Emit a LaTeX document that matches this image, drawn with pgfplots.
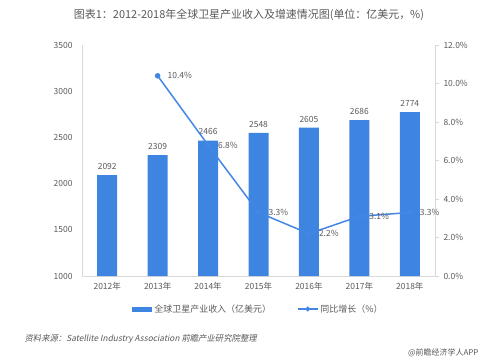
\documentclass[border=0pt]{standalone}
\usepackage{pgfplots}
\pgfplotsset{compat=1.18}
\usepackage{fontspec}
\setmainfont{Noto Sans CJK SC}
\newfontfamily\srcfont[FakeSlant=0.2]{Noto Sans CJK SC}
\definecolor{barblue}{RGB}{61,133,224}
\definecolor{lineblue}{RGB}{68,134,228}
\definecolor{txt}{RGB}{89,89,89}
\definecolor{axisgray}{RGB}{217,217,217}
\begin{document}
\begin{tikzpicture}[x=1bp,y=1bp]
\useasboundingbox (0,0) rectangle (500,362);
\pgfplotsset{
  every tick label/.append style={font=\fontsize{8.5}{10}\selectfont, text=txt},
  /pgf/number format/assume math mode=true
}
\begin{axis}[
  at={(82bp,86bp)}, anchor=south west, scale only axis,
  width=353bp, height=231bp,
  xmin=-0.5, xmax=6.5, ymin=1000, ymax=3500,
  ytick={1000,1500,2000,2500,3000,3500},
  yticklabel style={/pgf/number format/1000 sep={}},
  xtick={0,1,2,3,4,5,6},
  xticklabels={2012年,2013年,2014年,2015年,2016年,2017年,2018年},
  axis x line*=bottom, axis y line*=left,
  axis line style={draw=axisgray, line width=0.8pt},
  major tick length=0pt,
  yticklabel style={xshift=-6bp},
  xticklabel style={yshift=-3bp},
  clip=false,
]
\addplot[ybar, bar width=20bp, fill=barblue, draw=none,
  nodes near coords, every node near coord/.append style={font=\fontsize{8.5}{10}\selectfont, text=txt, yshift=2bp},
  nodes near coords style={/pgf/number format/1000 sep={}}]
  coordinates {(0,2092) (1,2309) (2,2466) (3,2548) (4,2605) (5,2686) (6,2774)};
\end{axis}
\begin{axis}[
  at={(82bp,86bp)}, anchor=south west, scale only axis,
  width=353bp, height=231bp,
  xmin=-0.5, xmax=6.5, ymin=0, ymax=12,
  ytick={0,2,4,6,8,10,12},
  yticklabel={\pgfmathprintnumber[fixed,fixed zerofill,precision=1]{\tick}\%},
  axis y line*=right, axis x line=none,
  axis line style={draw=axisgray, line width=0.8pt},
  ytick style={draw=axisgray, line width=0.8pt},
  major tick length=4bp, tick align=outside,
  yticklabel style={xshift=1bp},
  clip=false,
  legend style={at={(0.5,-0.143)}, anchor=center, draw=none, fill=none,
    legend columns=2, font=\fontsize{9}{10}\selectfont, text=txt,
    /tikz/every even column/.append style={column sep=24bp}},
]
\addlegendimage{area legend, fill=barblue, draw=none,
  legend image code/.code={\fill[barblue] (0bp,-2.5bp) rectangle (20bp,2.5bp);}}
\addlegendentry{全球卫星产业收入（亿美元）}
\addplot[lineblue, line width=1.5pt, mark=*, mark size=2pt,
  mark options={fill=lineblue, draw=lineblue},
  nodes near coords={\pgfmathprintnumber[fixed,precision=1]{\pgfplotspointmeta}\%},
  every node near coord/.append style={font=\fontsize{8.5}{10}\selectfont, text=txt, anchor=west, xshift=6bp, yshift=0bp},
  legend image code/.code={\draw[lineblue, line width=1.5pt] (0bp,0bp) -- (20bp,0bp); \fill[lineblue] (10bp,0bp) circle (1.6bp);}]
  coordinates {(1,10.4) (2,6.8) (3,3.3) (4,2.2) (5,3.1) (6,3.3)};
\addlegendentry{同比增长（\%）}
\end{axis}
\node[font=\fontsize{11}{13}\selectfont, text=txt] at (249,347) {图表1：2012-2018年全球卫星产业收入及增速情况图(单位：亿美元，\%)};
\node[anchor=west, font=\fontsize{8.4}{10}\srcfont, text=txt] at (21,23) {资料来源：Satellite Industry Association 前瞻产业研究院整理};
\node[anchor=east, font=\fontsize{8}{9}\selectfont, text=txt] at (482,9) {@前瞻经济学人APP};
\end{tikzpicture}
\end{document}
